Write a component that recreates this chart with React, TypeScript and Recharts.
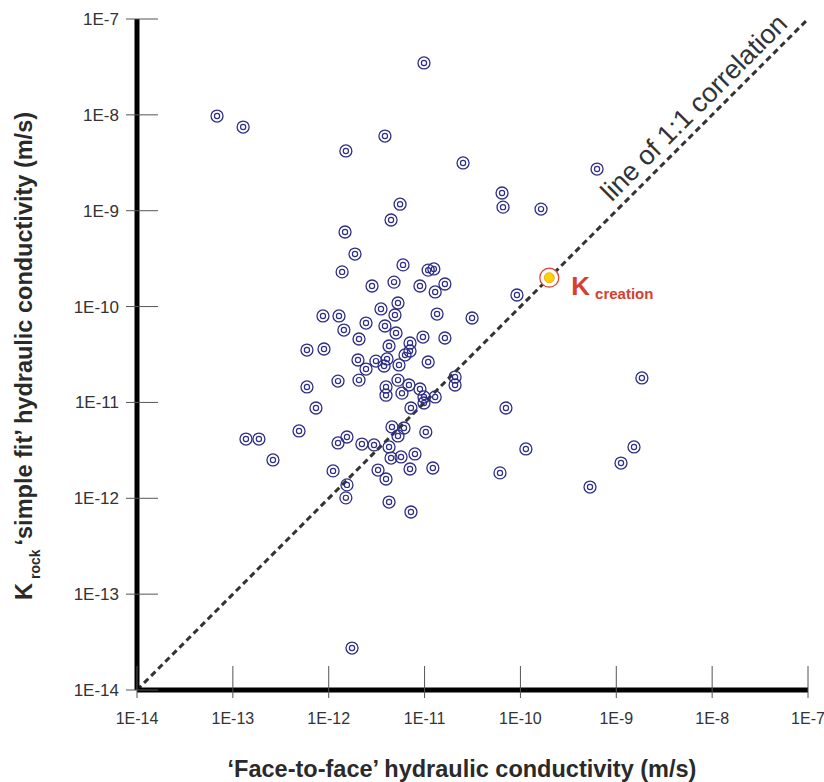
import { ScatterChart, Scatter, XAxis, YAxis, ReferenceLine } from "recharts";

// Log-scale decades used on both axes
const decadeTicks = [1e-14, 1e-13, 1e-12, 1e-11, 1e-10, 1e-9, 1e-8, 1e-7];
const decadeLabels = ["1E-14", "1E-13", "1E-12", "1E-11", "1E-10", "1E-9", "1E-8", "1E-7"];

// 'Face-to-face' hydraulic conductivity (m/s)
const faceToFace = [
  1.48e-12, 1.88e-12, 5.96e-12, 1.38e-12, 1.09e-11, 1.25e-11, 2.83e-12, 4.8e-12, 8.95e-12, 1.63e-11,
  1.29e-11, 5.28e-12, 3.51e-12, 4.91e-12, 8.71e-13, 1.28e-12, 1.35e-11, 3.13e-11, 2.45e-12, 3.86e-12,
  1.44e-12, 5.04e-12, 2.07e-12, 9.62e-12, 1.63e-11, 7.05e-12, 4.26e-12, 5.93e-13, 8.93e-13, 7.05e-12,
  6.25e-12, 2.02e-12, 3.11e-12, 4.06e-12, 2.45e-12, 3.78e-12, 5.41e-12, 1.09e-11, 2.08e-11, 1.25e-12,
  2.07e-12, 5.28e-12, 3.96e-12, 6.87e-12, 8.95e-12, 2.08e-11, 5.93e-13, 3.96e-12, 5.81e-12, 9.86e-12,
  1.29e-11, 9.86e-12, 7.36e-13, 7.21e-12, 4.57e-12, 6.1e-12, 4.9e-13, 5.28e-12, 1.03e-11, 1.37e-13,
  1.87e-13, 1.55e-12, 1.25e-12, 2.22e-12, 2.97e-12, 4.26e-12, 2.62e-13, 4.47e-12, 5.68e-12, 7.94e-12,
  1.11e-12, 3.27e-12, 7.05e-12, 1.22e-11, 3.96e-12, 1.55e-12, 1.51e-12, 4.26e-12, 7.21e-12, 7.06e-11,
  1.85e-9, 1.14e-10, 6.12e-11, 1.53e-9, 1.12e-9, 5.32e-10, 6.84e-14, 1.28e-13, 1.51e-12, 3.86e-12,
  5.55e-12, 4.47e-12, 9.86e-12, 2.52e-11, 6.3e-10, 6.43e-11, 6.58e-11, 1.64e-10, 9.2e-11, 1.75e-12,
];

// K rock 'simple fit' hydraulic conductivity (m/s)
const simpleFit = [
  6.0e-10, 3.53e-10, 2.72e-10, 2.3e-10, 2.4e-10, 2.47e-10, 1.64e-10, 1.8e-10, 1.64e-10, 1.72e-10,
  1.42e-10, 1.09e-10, 9.44e-11, 8.17e-11, 7.98e-11, 7.98e-11, 8.36e-11, 7.6e-11, 6.73e-11, 6.27e-11,
  5.69e-11, 5.3e-11, 4.59e-11, 4.81e-11, 4.7e-11, 4.17e-11, 3.88e-11, 3.52e-11, 3.61e-11, 3.44e-11,
  3.13e-11, 2.77e-11, 2.7e-11, 2.84e-11, 2.23e-11, 2.4e-11, 2.46e-11, 2.64e-11, 1.84e-11, 1.67e-11,
  1.71e-11, 1.71e-11, 1.45e-11, 1.52e-11, 1.38e-11, 1.52e-11, 1.45e-11, 1.19e-11, 1.25e-11, 1.14e-11,
  1.14e-11, 9.86e-12, 8.75e-12, 8.75e-12, 5.55e-12, 5.41e-12, 5.04e-12, 4.47e-12, 4.91e-12, 4.15e-12,
  4.15e-12, 4.36e-12, 3.78e-12, 3.68e-12, 3.6e-12, 3.43e-12, 2.51e-12, 2.63e-12, 2.7e-12, 2.9e-12,
  1.93e-12, 1.97e-12, 2.02e-12, 2.07e-12, 1.59e-12, 1.38e-12, 1.01e-12, 9.14e-13, 7.19e-13, 8.75e-12,
  1.8e-11, 3.27e-12, 1.84e-12, 3.43e-12, 2.33e-12, 1.31e-12, 9.72e-9, 7.46e-9, 4.2e-9, 6.01e-9,
  1.17e-9, 8.0e-10, 3.48e-8, 3.15e-9, 2.72e-9, 1.53e-9, 1.09e-9, 1.04e-9, 1.32e-10, 2.74e-14,
];

const kCreation = [{ x: 2.0e-10, y: 2.0e-10 }];
const oneToOne = [1e-14, 1e-7];

const samples = faceToFace.map((x, i) => ({ x, y: simpleFit[i] }));

const FONT = "'Liberation Sans', Arial, Helvetica, sans-serif";
const PLOT_LEFT = 137;
const PLOT_BOTTOM = 690;
const NAVY = "#2f2f86";
const RED = "#d6402e";

const label = (v: number) => decadeLabels[decadeTicks.findIndex((t) => Math.abs(Math.log10(t) - Math.log10(v)) < 1e-6)] ?? "";

const XTick = ({ x, payload }: any) => (
  <g>
    <line x1={x} x2={x} y1={PLOT_BOTTOM - 24} y2={PLOT_BOTTOM + 8} stroke="#555" strokeWidth={1} />
    <text x={x} y={PLOT_BOTTOM + 34} textAnchor="middle" fontSize={16} fill="#333" fontFamily={FONT}>
      {label(payload.value)}
    </text>
  </g>
);

const YTick = ({ y, payload }: any) => (
  <g>
    <line x1={PLOT_LEFT - 11} x2={PLOT_LEFT + 21} y1={y} y2={y} stroke="#555" strokeWidth={1} />
    <text x={PLOT_LEFT - 18} y={y + 6} textAnchor="end" fontSize={17} fill="#333" fontFamily={FONT}>
      {label(payload.value)}
    </text>
  </g>
);

const Ring = ({ cx, cy }: any) => (
  <g>
    <circle cx={cx} cy={cy} r={6} fill="none" stroke={NAVY} strokeWidth={1.3} />
    <circle cx={cx} cy={cy} r={2.6} fill="none" stroke={NAVY} strokeWidth={1.2} />
  </g>
);

const CreationMark = ({ cx, cy }: any) => (
  <g>
    <circle cx={cx} cy={cy} r={9.5} fill="#fff" stroke={RED} strokeWidth={1.2} />
    <circle cx={cx} cy={cy} r={5} fill="#ffd400" stroke="#e8a000" strokeWidth={0.8} />
    <text x={cx + 22} y={cy + 17} fill={RED} fontFamily={FONT} fontWeight="bold" fontSize={26}>
      K
      <tspan fontSize={15} dx={5} dy={4}>creation</tspan>
    </text>
  </g>
);

const DiagLabel = ({ viewBox }: any) => {
  if (!viewBox) return null;
  const { x, y, width, height } = viewBox;
  const t = 0.717;
  const px = x + t * width;
  const py = y + height - t * height;
  // shift off the line, towards the upper left
  const off = 9;
  return (
    <text
      x={0}
      y={0}
      transform={`translate(${px - off / Math.SQRT2},${py - off / Math.SQRT2}) rotate(-45)`}
      fontSize={27}
      fill="#333"
      fontFamily={FONT}
    >
      line of 1:1 correlation
    </text>
  );
};

export default function App() {
  return (
    <div style={{ position: "absolute", left: 0, top: 0, width: 824, height: 782, background: "#fff" }}>
      <ScatterChart width={824} height={782} margin={{ top: 19, right: 16, bottom: 62, left: 77 }}>
        <XAxis
          type="number"
          dataKey="x"
          scale="log"
          domain={[1e-14, 1e-7]}
          ticks={decadeTicks}
          interval={0}
          allowDataOverflow
          height={30}
          tick={<XTick />}
          tickLine={false}
          axisLine={{ stroke: "#000", strokeWidth: 5 }}
        />
        <YAxis
          type="number"
          dataKey="y"
          scale="log"
          domain={[1e-14, 1e-7]}
          ticks={decadeTicks}
          interval={0}
          allowDataOverflow
          width={60}
          tick={<YTick />}
          tickLine={false}
          axisLine={{ stroke: "#000", strokeWidth: 5 }}
        />
        <ReferenceLine
          segment={[
            { x: oneToOne[0], y: oneToOne[0] },
            { x: oneToOne[1], y: oneToOne[1] },
          ]}
          stroke="#333"
          strokeWidth={3}
          strokeDasharray="6 4"
          ifOverflow="visible"
          label={<DiagLabel />}
        />
        <Scatter data={samples} shape={<Ring />} isAnimationActive={false} />
        <Scatter data={kCreation} shape={<CreationMark />} isAnimationActive={false} />
      </ScatterChart>
      <svg width={824} height={782} style={{ position: "absolute", left: 0, top: 0, pointerEvents: "none" }}>
        <text x={462} y={777} textAnchor="middle" fontSize={23.5} fontWeight="bold" fill="#2a2a2a" fontFamily={FONT}>
          ‘Face-to-face’ hydraulic conductivity (m/s)
        </text>
        <text
          transform="translate(32,356) rotate(-90)"
          textAnchor="middle"
          fontSize={23.5}
          fontWeight="bold"
          fill="#2a2a2a"
          fontFamily={FONT}
        >
          K
          <tspan fontSize={14} dx={4} dy={8}>rock</tspan>
          <tspan dx={4} dy={-8}>‘simple fit’ hydraulic conductivity (m/s)</tspan>
        </text>
      </svg>
    </div>
  );
}
